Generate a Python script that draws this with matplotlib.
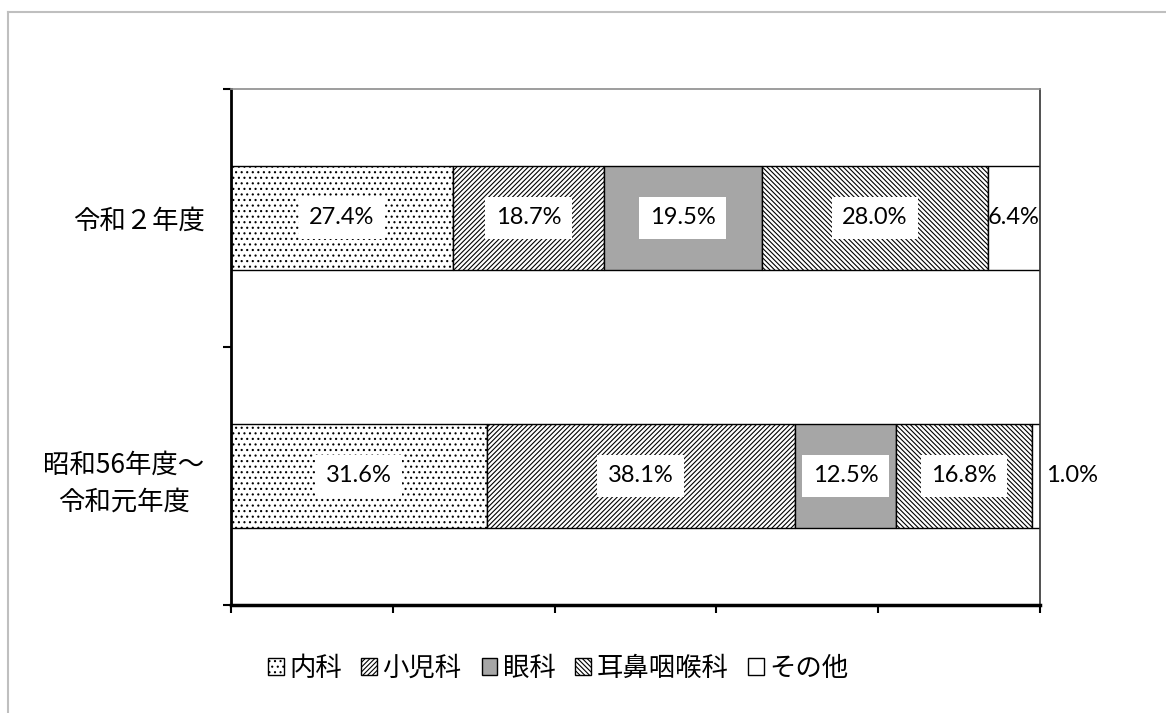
import matplotlib.pyplot as plt
from matplotlib.lines import Line2D
import numpy as np

plt.rcParams['font.family'] = ['Noto Sans CJK JP', 'DejaVu Sans']
plt.rcParams['hatch.linewidth'] = 0.8

# data
categories = ["昭和56年度～\n令和元年度", "令和２年度"]
series = ["内科", "小児科", "眼科", "耳鼻咽喉科", "その他"]
values = {
    "内科": [31.6, 27.4],
    "小児科": [38.1, 18.7],
    "眼科": [12.5, 19.5],
    "耳鼻咽喉科": [16.8, 28.0],
    "その他": [1.0, 6.4],
}

# styles
fills = ["white", "white", "#a6a6a6", "white", "white"]
hatches = ["...", "/" * 7, None, "\\" * 7, None]
num_font = ["Lato", "DejaVu Sans"]

W, H = 1166, 713
fig = plt.figure(figsize=(W / 100, H / 100), dpi=100)
ax = fig.add_axes([231 / W, 1 - 605 / H, (1040 - 231) / W, (605 - 89) / H])

y = np.arange(len(categories))
left = np.zeros(len(categories))
for i, name in enumerate(series):
    v = np.array(values[name]) / 100.0
    bars = ax.barh(y, v, left=left, height=0.4, color=fills[i], edgecolor="black",
                   hatch=hatches[i], linewidth=1.0, label=name)
    for j, b in enumerate(bars):
        txt = "{:.1f}%".format(values[name][j])
        if values[name][j] < 3:
            ax.annotate(txt, (left[j] + v[j], y[j]), xytext=(4, 0), textcoords="offset points",
                        ha="left", va="center", fontsize=17, family=num_font)
        elif fills[i] == "white" and hatches[i] is None:
            ax.text(left[j] + v[j] / 2, y[j], txt, ha="center", va="center", fontsize=17,
                    family=num_font, zorder=2)
        else:
            ax.text(left[j] + v[j] / 2, y[j], txt, ha="center", va="center", fontsize=17,
                    family=num_font, zorder=2,
                    bbox=dict(boxstyle="square,pad=0.45", fc="white", ec="none"))
    left = left + v

ax.set_xlim(0, 1)
ax.set_ylim(-0.5, 1.5)
ax.set_xticks(np.linspace(0, 1, 6))
ax.set_xticklabels([])
ax.set_yticks([-0.5, 0.5, 1.5])
ax.set_yticklabels([])
ax.set_yticks(y, minor=True)
ax.set_yticklabels(categories, minor=True, fontsize=19, ha="right", multialignment="center",
                   linespacing=1.45)
ax.tick_params(axis="y", which="minor", length=0, pad=19)
ax.tick_params(axis="both", which="major", length=6, width=1.5, direction="out")

ax.spines["left"].set_linewidth(2)
ax.spines["bottom"].set_linewidth(2.5)
ax.spines["top"].set_color("#8c8c8c")
ax.spines["top"].set_linewidth(1.2)
ax.spines["right"].set_color("#333333")
ax.spines["right"].set_linewidth(1.2)

ax.legend(loc="center", bbox_to_anchor=(558 / W, 1 - 668 / H), bbox_transform=fig.transFigure,
          ncol=5, frameon=False, fontsize=19, handlelength=0.6, handleheight=0.6,
          handletextpad=0.2, columnspacing=0.75)

# outer chart border (cut off at right and bottom)
fig.add_artist(Line2D([8 / W, 8 / W], [-0.1, 1 - 12 / H], color="#bfbfbf", lw=1.5,
                      transform=fig.transFigure))
fig.add_artist(Line2D([8 / W, 1.1], [1 - 12 / H, 1 - 12 / H], color="#bfbfbf", lw=1.5,
                      transform=fig.transFigure))

fig.savefig("out.png", dpi=100)
